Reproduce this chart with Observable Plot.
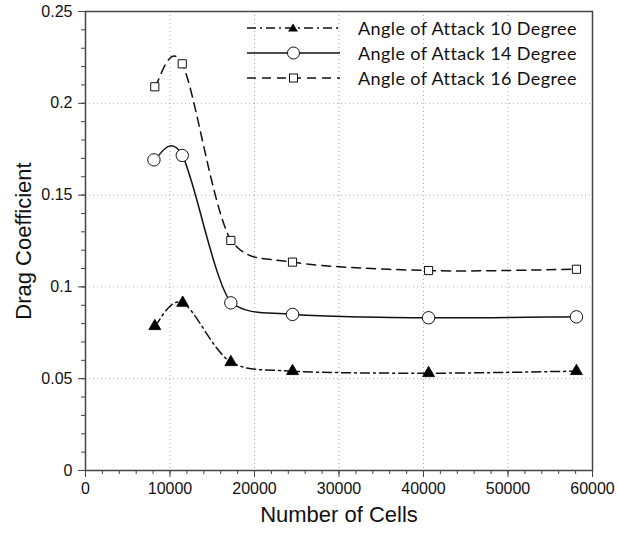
<!DOCTYPE html>
<html><head><meta charset="utf-8">
<script src="https://cdn.jsdelivr.net/npm/d3@7"></script>
<script src="https://cdn.jsdelivr.net/npm/@observablehq/plot@0.6"></script>
<style>
html,body{margin:0;padding:0;background:#fff;}
#wrap{position:relative;width:618px;height:533px;}
#legend{position:absolute;left:247px;top:15px;font-family:Lato,"Open Sans",sans-serif;font-size:18px;letter-spacing:0.4px;color:#111;}
.row{display:flex;align-items:center;height:25px;}
.row span{margin-left:18px;}
</style></head>
<body><div id="wrap"><div id="legend"></div></div>
<script>
const seriesNames = ["Angle of Attack 10 Degree", "Angle of Attack 14 Degree", "Angle of Attack 16 Degree"];
const cells10 = [8200, 11500, 17200, 24500, 40600, 58100];
const drag10 = [0.0786, 0.0913, 0.059, 0.0541, 0.053, 0.0541];
const cells14 = [8100, 11450, 17200, 24500, 40600, 58100];
const drag14 = [0.1692, 0.1716, 0.0913, 0.085, 0.0832, 0.0837];
const cells16 = [8200, 11450, 17200, 24500, 40600, 58100];
const drag16 = [0.209, 0.2215, 0.1253, 0.1135, 0.1089, 0.1096];
const xTicks = [0, 10000, 20000, 30000, 40000, 50000, 60000];
const yTicks = [0, 0.05, 0.1, 0.15, 0.2, 0.25];

// smoothing curve: cardinal tangents, with control points kept within the segment's
// vertical range except at local extrema (gives the overshoot peaks and the kinks)
function SmoothClamp(context) { this._context = context; }
SmoothClamp.prototype = {
  areaStart() {}, areaEnd() {},
  lineStart() { this._pts = []; },
  point(x, y) { this._pts.push([+x, +y]); },
  lineEnd() {
    const p = this._pts, n = p.length, c = this._context;
    if (!n) return;
    c.moveTo(p[0][0], p[0][1]);
    if (n === 1) return;
    const ext = i => i > 0 && i < n - 1 && (p[i][1] - p[i-1][1]) * (p[i+1][1] - p[i][1]) < 0;
    const T = i => { const a = p[Math.max(i - 1, 0)], b = p[Math.min(i + 1, n - 1)]; return [(b[0] - a[0]) / 6, (b[1] - a[1]) / 6]; };
    for (let i = 0; i < n - 1; i++) {
      const a = p[i], b = p[i + 1], ta = T(i), tb = T(i + 1);
      const c1 = [a[0] + ta[0], a[1] + ta[1]], c2 = [b[0] - tb[0], b[1] - tb[1]];
      const lo = Math.min(a[1], b[1]), hi = Math.max(a[1], b[1]);
      if (!ext(i)) c1[1] = Math.max(lo, Math.min(hi, c1[1]));
      if (!ext(i + 1)) c2[1] = Math.max(lo, Math.min(hi, c2[1]));
      c.bezierCurveTo(c1[0], c1[1], c2[0], c2[1], b[0], b[1]);
    }
  }
};
const smoothCurve = ctx => new SmoothClamp(ctx);

const styles = [
  {dash: "9,4,2,4", symbol: "triangle", fill: "#000", r: 4.4},
  {dash: null, symbol: "circle", fill: "#fff", r: 6.2},
  {dash: "9,6", symbol: "square", fill: "#fff", r: 4.6}
];
const raw = [[cells10, drag10], [cells14, drag14], [cells16, drag16]];
const data = raw.map(([xs, ys], i) => xs.map((x, j) => ({x, y: ys[j], s: seriesNames[i]})));

const marks = [
  Plot.gridX(xTicks.slice(1, -1), {stroke: "#aaa", strokeOpacity: 1, strokeDasharray: "1,3"}),
  Plot.gridY(yTicks.slice(1, -1), {stroke: "#aaa", strokeOpacity: 1, strokeDasharray: "1,3"}),
  Plot.axisX(d3.range(0, 60001, 2000), {tickSize: 4, tickFormat: () => "", stroke: "#444", label: null}),
  Plot.axisY(d3.range(0, 0.2501, 0.01), {tickSize: 4, tickFormat: () => "", stroke: "#444", label: null}),
  Plot.axisX(xTicks, {tickSize: 7, tickFormat: d => String(d), stroke: "#444", fontSize: 16, fill: "#111", tickPadding: 5,
    label: "Number of Cells", labelAnchor: "center", labelArrow: "none", labelOffset: 51}),
  Plot.axisY(yTicks, {tickSize: 7, tickFormat: d => String(d), stroke: "#444", fontSize: 16, fill: "#111", tickPadding: 6,
    label: "Drag Coefficient", labelAnchor: "center", labelArrow: "none", labelOffset: 70}),
  Plot.frame({stroke: "#444", strokeWidth: 1.5})
];
data.forEach((d, i) => {
  marks.push(Plot.line(d, {x: "x", y: "y", curve: smoothCurve, stroke: "#111", strokeWidth: 1.5, strokeDasharray: styles[i].dash}));
});
data.forEach((d, i) => {
  marks.push(Plot.dot(d, {x: "x", y: "y", symbol: () => styles[i].symbol, r: styles[i].r, fill: styles[i].fill, stroke: "#111", strokeWidth: 1}));
});

const chart = Plot.plot({
  width: 618, height: 533,
  marginLeft: 85, marginRight: 26, marginTop: 11, marginBottom: 63,
  style: {fontFamily: "'Liberation Sans', Arial, sans-serif", fontSize: "16px", background: "#fff"},
  x: {domain: [0, 60000]},
  y: {domain: [0, 0.25]},
  marks
});
chart.querySelectorAll("[aria-label='x-axis label'] text, [aria-label='y-axis label'] text").forEach(t => t.setAttribute("font-size", 22));
document.getElementById("wrap").prepend(chart);

const legend = document.getElementById("legend");
seriesNames.forEach((name, i) => {
  const st = styles[i];
  const sym = st.symbol === "triangle" ? `<path d="M46,8.5 L51,16.5 L41,16.5 Z" fill="#000"/>` :
    st.symbol === "circle" ? `<circle cx="46.5" cy="13" r="6" fill="#fff" stroke="#111"/>` :
    `<rect x="42.5" y="9" width="8" height="8" fill="#fff" stroke="#111"/>`;
  legend.insertAdjacentHTML("beforeend",
    `<div class="row"><svg width="93" height="25"><line x1="0" x2="93" y1="13" y2="13" stroke="#111" stroke-width="1.5" ${st.dash ? `stroke-dasharray="${st.dash}"` : ""}/>${sym}</svg><span>${name}</span></div>`);
});
</script></body></html>
